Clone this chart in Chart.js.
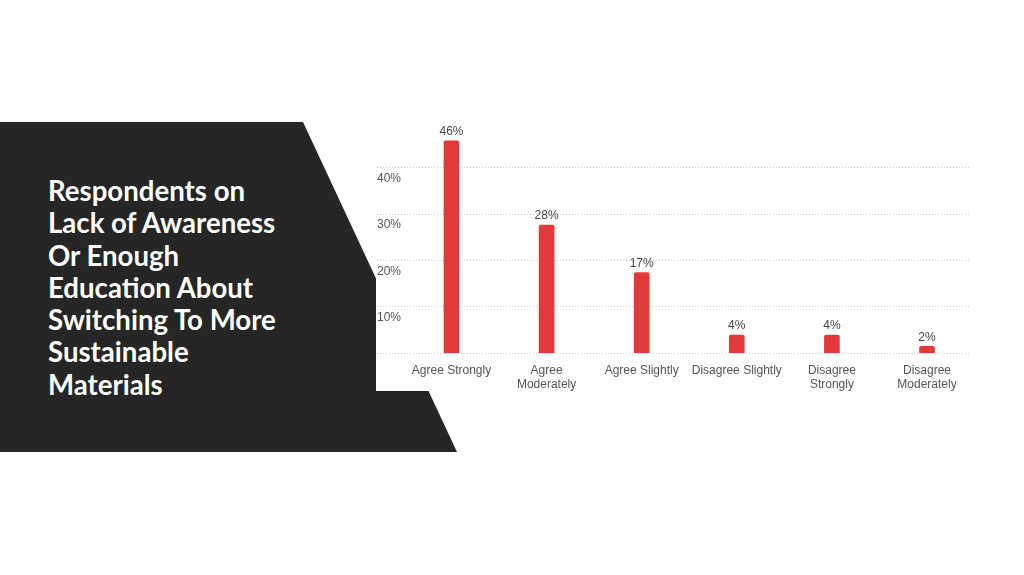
<!DOCTYPE html>
<html>
<head>
<meta charset="utf-8">
<script src="https://cdn.jsdelivr.net/npm/chart.js@4/dist/chart.umd.min.js"></script>
<style>
html,body{margin:0;padding:0;width:1024px;height:575px;background:#fff;overflow:hidden;}
body{position:relative;}
#shape{position:absolute;left:0;top:122px;width:457px;height:330px;background:#262626;
  clip-path:polygon(0 0,303px 0,457px 330px,0 330px);}
#title{position:absolute;left:48px;top:175px;color:#fff;font-family:Lato,"Open Sans",sans-serif;
  font-weight:bold;font-size:27.6px;line-height:32.3px;white-space:nowrap;}
#panel{position:absolute;left:376px;top:112px;width:604px;height:279px;background:#fff;overflow:visible;}
canvas{display:block;position:absolute;left:0;top:0;}
</style>
</head>
<body>
<div id="shape"></div>
<div id="title">Respondents on<br>Lack of Awareness<br>Or Enough<br>Education About<br>Switching To More<br>Sustainable<br>Materials</div>
<div id="panel"><canvas id="c" width="604" height="290"></canvas></div>
<script>
const categories = ['Agree Strongly','Agree Moderately','Agree Slightly','Disagree Slightly','Disagree Strongly','Disagree Moderately'];
const tickLabels = [['Agree Strongly'],['Agree','Moderately'],['Agree Slightly'],['Disagree Slightly'],['Disagree','Strongly'],['Disagree','Moderately']];
const values = [45.8, 27.6, 17.4, 3.9, 3.9, 1.5];
const yTicks = [0, 10, 20, 30, 40];

const barLabels = {
  id: 'barLabels',
  afterDatasetsDraw(chart) {
    const ctx = chart.ctx;
    const meta = chart.getDatasetMeta(0);
    ctx.save();
    ctx.font = '12px "Liberation Sans", Arial, sans-serif';
    ctx.fillStyle = '#444';
    ctx.textAlign = 'center';
    ctx.textBaseline = 'bottom';
    meta.data.forEach((el, i) => {
      ctx.fillText(Math.round(values[i]) + '%', el.x, el.y - 3);
    });
    ctx.restore();
  }
};

new Chart(document.getElementById('c'), {
  type: 'bar',
  data: {
    datasets: [{
      label: 'Respondents',
      data: values.map((v, i) => ({x: i, y: v})),
      backgroundColor: '#e3393a',
      barThickness: 15,
      borderRadius: {topLeft: 2, topRight: 2, bottomLeft: 0, bottomRight: 0},
      borderSkipped: false
    }]
  },
  options: {
    responsive: false,
    animation: false,
    layout: {padding: {left: 1, right: 10, top: 18.5, bottom: 0}},
    plugins: {legend: {display: false}, tooltip: {enabled: false}},
    scales: {
      x: {
        type: 'linear',
        offset: false,
        min: -0.783,
        max: 5.452,
        grid: {display: false, drawTicks: false},
        border: {display: false},
        afterBuildTicks: s => { s.ticks = categories.map((c, i) => ({value: i})); },
        ticks: {
          autoSkip: false,
          maxRotation: 0,
          padding: 10,
          color: '#555',
          font: {family: '"Liberation Sans", Arial, sans-serif', size: 12},
          callback: v => tickLabels[v]
        }
      },
      y: {
        min: 0,
        max: 48,
        grid: {color: '#cfcfcf', lineWidth: 1, drawTicks: false},
        border: {display: false, dash: [1, 2]},
        afterBuildTicks: s => { s.ticks = yTicks.map(v => ({value: v})); },
        ticks: {
          mirror: true,
          padding: 0,
          labelOffset: 11,
          color: '#555',
          font: {family: '"Liberation Sans", Arial, sans-serif', size: 12},
          callback: v => v === 0 ? '' : v + '%'
        }
      }
    }
  },
  plugins: [barLabels]
});
</script>
</body>
</html>
